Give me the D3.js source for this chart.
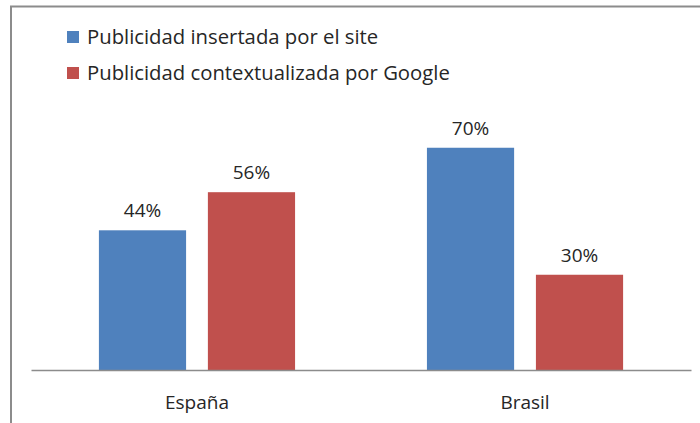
<!DOCTYPE html>
<html>
<head>
<meta charset="utf-8">
<script src="https://cdn.jsdelivr.net/npm/d3@7"></script>
<style>
  html, body { margin: 0; padding: 0; background: #fff; }
  svg { display: block; font-family: "Open Sans", "Noto Sans", sans-serif; }
</style>
</head>
<body>
<div id="chart"></div>
<script>
// chart data
const categories = ["España", "Brasil"];
const seriesNames = ["Publicidad insertada por el site", "Publicidad contextualizada por Google"];
const insertada = [44, 70];
const contextual = [56, 30];
const colors = ["#4F81BD", "#C0504D"];

const width = 700, height = 423;
const svg = d3.select("#chart").append("svg")
  .attr("width", width)
  .attr("height", height);

// outer frame (only top and left edges visible)
svg.append("path")
  .attr("d", "M11,423 V6.5 H700")
  .attr("fill", "none")
  .attr("stroke", "#8c8c8c")
  .attr("stroke-width", 2);

const plotLeft = 31, plotRight = 691, baseline = 370;

const x0 = d3.scaleBand()
  .domain(categories)
  .range([plotLeft, plotRight])
  .paddingInner(0.402)
  .paddingOuter(0.207);

const x1 = d3.scaleBand()
  .domain(seriesNames)
  .range([0, x0.bandwidth()])
  .paddingInner(0.2);

const y = d3.scaleLinear()
  .domain([0, 80])
  .range([baseline, 116]);

const rows = categories.map((c, i) => ({
  cat: c,
  vals: [
    { s: seriesNames[0], v: insertada[i], color: colors[0] },
    { s: seriesNames[1], v: contextual[i], color: colors[1] }
  ]
}));

const groups = svg.selectAll(".grp")
  .data(rows)
  .enter().append("g")
  .attr("class", "grp")
  .attr("transform", d => `translate(${x0(d.cat)},0)`);

groups.selectAll("rect")
  .data(d => d.vals)
  .enter().append("rect")
  .attr("x", d => x1(d.s))
  .attr("y", d => y(d.v))
  .attr("width", x1.bandwidth())
  .attr("height", d => baseline - y(d.v))
  .attr("fill", d => d.color);

groups.selectAll("text")
  .data(d => d.vals)
  .enter().append("text")
  .attr("x", d => x1(d.s) + x1.bandwidth() / 2)
  .attr("y", d => y(d.v) - 13)
  .attr("text-anchor", "middle")
  .attr("font-size", 19)
  .attr("fill", "#262626")
  .text(d => d.v + "%");

// category axis
const xAxis = svg.append("g")
  .attr("transform", `translate(0,${baseline})`)
  .call(d3.axisBottom(x0).tickSize(0).tickPadding(26));
xAxis.select(".domain")
  .attr("stroke", "#8c8c8c")
  .attr("stroke-width", 1.5);
xAxis.selectAll("text")
  .attr("font-size", 19)
  .attr("font-family", "\"Open Sans\", \"Noto Sans\", sans-serif")
  .attr("fill", "#262626");

// legend
const legend = svg.selectAll(".leg")
  .data(seriesNames)
  .enter().append("g")
  .attr("class", "leg")
  .attr("transform", (d, i) => `translate(67,${31 + i * 36})`);
legend.append("rect")
  .attr("width", 12)
  .attr("height", 12)
  .attr("fill", (d, i) => colors[i]);
legend.append("text")
  .attr("x", 20)
  .attr("y", 13)
  .attr("font-size", 20.3)
  .attr("fill", "#262626")
  .text(d => d);
</script>
</body>
</html>
